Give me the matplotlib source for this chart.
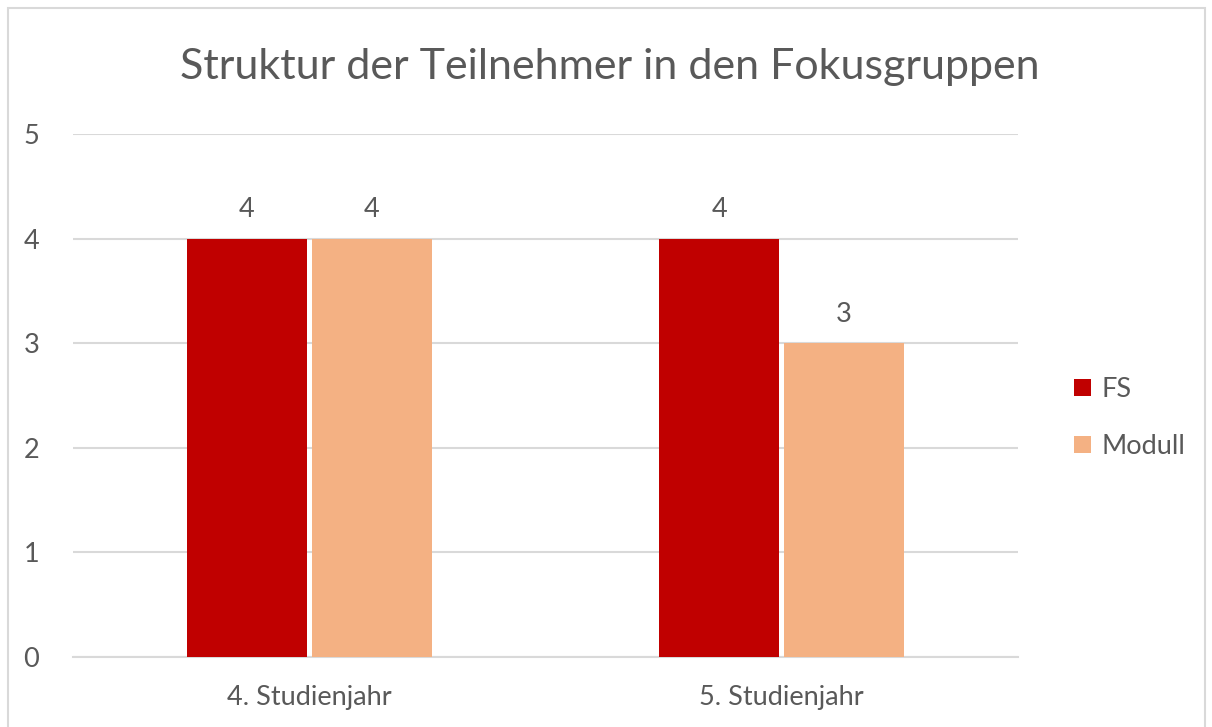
import matplotlib
matplotlib.use("Agg")
import matplotlib.pyplot as plt
from matplotlib.patches import Rectangle
import numpy as np

categories = ["4. Studienjahr", "5. Studienjahr"]
series_names = ["FS", "Modull"]
fs_values = [4, 4]
modull_values = [4, 3]
colors = ["#C00000", "#F4B183"]
yticks = [0, 1, 2, 3, 4, 5]
title = "Struktur der Teilnehmer in den Fokusgruppen"

plt.rcParams['font.family'] = ['Lato', 'DejaVu Sans']
txt = "#595959"
fs = 19.5

W, H = 1212, 727
fig = plt.figure(figsize=(W/100, H/100), dpi=100)
fig.patches.append(Rectangle((8/W, -0.01), (1205-8)/W, (727-8)/H + 0.01,
                             transform=fig.transFigure, fill=False,
                             edgecolor="#D9D9D9", linewidth=1.5))

ax = fig.add_axes([73/W, 1-657/H, (1018-73)/W, (657-134)/H])
x = np.arange(len(categories))
bw = 0.254
gap = 0.005
b1 = ax.bar(x - bw/2 - gap, fs_values, bw, color=colors[0], label=series_names[0], zorder=3)
b2 = ax.bar(x + bw/2 + gap, modull_values, bw, color=colors[1], label=series_names[1], zorder=3)
for bars in (b1, b2):
    for b in bars:
        ax.annotate(f"{int(b.get_height())}", (b.get_x()+b.get_width()/2, b.get_height()),
                    xytext=(0, 12), textcoords="offset points", ha="center", va="bottom",
                    fontsize=fs, color=txt)

ax.set_xlim(-0.5, 1.5)
ax.set_ylim(0, 5)
ax.set_yticks(yticks)
ax.set_xticks(x)
ax.set_xticklabels(categories)
ax.yaxis.grid(True, color="#D9D9D9", linewidth=1.5, zorder=0)
ax.set_axisbelow(True)
for s in ["top", "right", "left"]:
    ax.spines[s].set_visible(False)
ax.spines["bottom"].set_color("#D9D9D9")
ax.spines["bottom"].set_linewidth(1.5)
ax.tick_params(axis="both", length=0, labelsize=fs, labelcolor=txt)
ax.tick_params(axis="y", pad=30)
ax.tick_params(axis="x", pad=20)
for lbl in ax.get_yticklabels():
    lbl.set_horizontalalignment("center")

fig.text(610/W, 1-67/H, title, ha="center", va="center", fontsize=31, color=txt)

leg = fig.legend(handles=[b1, b2], labels=series_names, loc="center left",
                 bbox_to_anchor=(1050/W, 1-418/H), frameon=False, fontsize=fs,
                 handlelength=0.6, handleheight=0.6, handletextpad=0.4,
                 labelspacing=1.2, labelcolor=txt)

fig.savefig("out.png", dpi=100)
